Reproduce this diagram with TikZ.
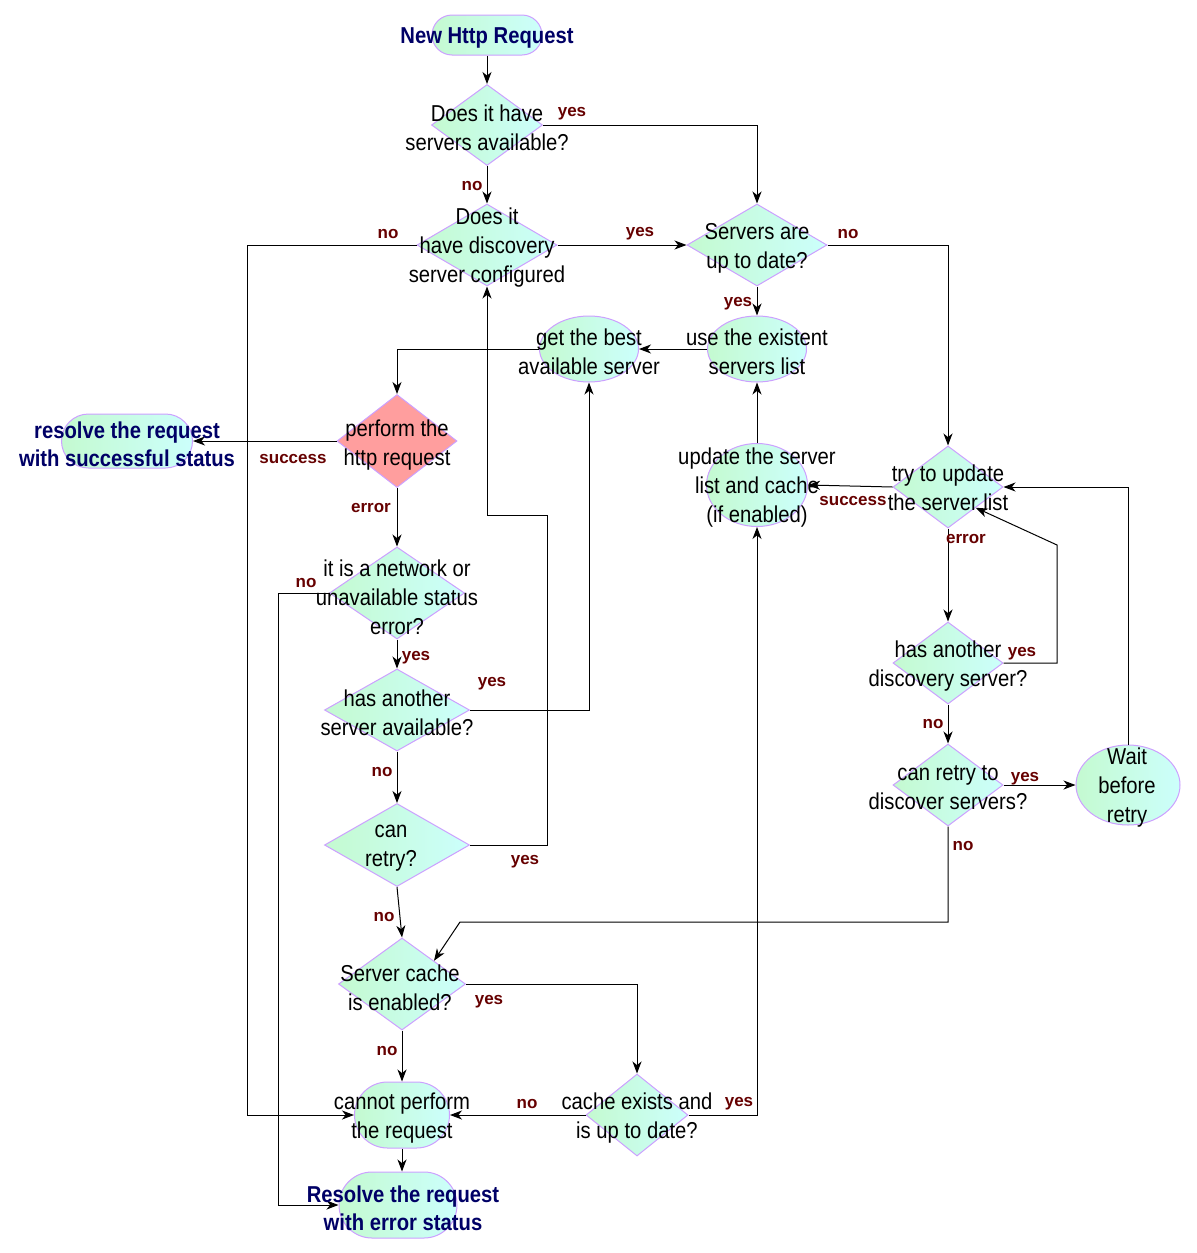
\documentclass[tikz,border=0pt]{standalone}
\usepackage{fontspec}
\setmainfont{Liberation Sans}[FakeStretch=0.88]
\newfontfamily\lblfont{Liberation Sans}
\usetikzlibrary{shapes.geometric,shapes.misc,arrows.meta}
\definecolor{gA}{RGB}{196,250,208}
\definecolor{gB}{RGB}{204,255,252}
\definecolor{bord}{RGB}{204,160,255}
\definecolor{redf}{RGB}{255,158,158}
\definecolor{navyc}{RGB}{0,0,102}
\definecolor{lblc}{RGB}{102,0,0}
\begin{document}
\begin{tikzpicture}[x=0.5pt,y=-0.5pt,
 shp/.style={draw=bord, line width=0.5pt, left color=gA, right color=gB, inner sep=0pt},
 dia/.style={shp, diamond},
 reddia/.style={draw=bord, line width=0.5pt, fill=redf, inner sep=0pt, diamond},
 ell/.style={shp, ellipse},
 stad/.style={shp, rounded rectangle},
 sz/.style 2 args={minimum width=#1*0.5pt, minimum height=#2*0.5pt},
 txt/.style={align=center, font=\fontsize{11.5}{14.5}\selectfont, inner sep=0pt, yshift=-1pt},
 ttl/.style={txt, font=\fontsize{11.5}{14.2}\selectfont\bfseries, text=navyc},
 lbl/.style={font=\lblfont\fontsize{8.5}{10}\selectfont\bfseries, text=lblc, inner sep=0pt, yshift=-1.5pt},
 arr/.style={-{Stealth[length=6pt,width=4.5pt,inset=1.8pt]}, line width=0.5pt}]
\useasboundingbox[fill=white] (0,0) rectangle (1196,1253);

% shapes
\node[stad, sz={110}{40}] (start) at (487,35) {};
\node[dia, sz={111}{81}] (d1) at (487,125) {};
\node[dia, sz={140}{82}] (d2) at (487,245) {};
\node[dia, sz={140}{82}] (d3) at (757,245) {};
\node[ell, sz={99}{66}] (use) at (757,349) {};
\node[ell, sz={99}{66}] (best) at (589,349) {};
\node[reddia, sz={120}{93}] (perf) at (397,441) {};
\node[stad, sz={131}{54}] (resok) at (127,441) {};
\node[dia, sz={135}{92}] (net) at (397,593) {};
\node[dia, sz={145}{82}] (has) at (397,710) {};
\node[dia, sz={145}{83}] (cr) at (397,845) {};
\node[dia, sz={127}{92}] (sc) at (402,984) {};
\node[stad, sz={95}{66}] (cp) at (402,1115) {};
\node[stad, sz={118}{66}] (reserr) at (398,1205) {};
\node[dia, sz={102}{82}] (ce) at (637,1115) {};
\node[ell, sz={101}{83}] (upd) at (757,485) {};
\node[dia, sz={110}{82}] (try) at (948,487) {};
\node[dia, sz={110}{82}] (had) at (948,663) {};
\node[dia, sz={110}{82}] (crd) at (948,785) {};
\node[ell, sz={104}{80}] (wait) at (1128,785) {};

% bend coordinates
\coordinate (xa) at (247,0);
\coordinate (xb) at (278,0);
\coordinate (xc) at (547,0);
\coordinate (yc) at (0,515);
\coordinate (xd) at (1057,0);
\coordinate (yd) at (0,545);
\coordinate (xe) at (460,0);
\coordinate (ye) at (0,922);

% connectors
\draw[arr] (start.south) -- (d1.north);
\draw[arr] (d1.east) -| (d3.north);
\draw[arr] (d1.south) -- (d2.north);
\draw[arr] (d2.east) -- (d3.west);
\draw[arr] (d2.west) -- (d2.west -| xa) |- (cp.west);
\draw[arr] (d3.east) -| (try.north);
\draw[arr] (d3.south) -- (use.north);
\draw[arr] (use.west) -- (best.east);
\draw[arr] (best.west) -| (perf.north);
\draw[arr] (perf.west) -- (resok.east);
\draw[arr] (perf.south) -- (net.north);
\draw[arr] (net.west) -- (net.west -| xb) |- (reserr.west);
\draw[arr] (net.south) -- (has.north);
\draw[arr] (has.east) -| (best.south);
\draw[arr] (has.south) -- (cr.north);
\draw[arr] (cr.east) -| (xc |- yc) -| (d2.south);
\draw[arr] (cr.south) -- (sc.north);
\draw[arr] (sc.east) -| (ce.north);
\draw[arr] (sc.south) -- (cp.north);
\draw[arr] (ce.west) -- (cp.east);
\draw[arr] (ce.east) -| (upd.south);
\draw[arr] (upd.north) -- (use.south);
\draw[arr] (try.west) -- (upd.east);
\draw[arr] (try.south) -- (had.north);
\draw[arr] (had.east) -- (had.east -| xd) -- (xd |- yd) -- (try.south east);
\draw[arr] (had.south) -- (crd.north);
\draw[arr] (crd.east) -- (wait.west);
\draw[arr] (wait.north) |- (try.east);
\draw[arr] (crd.south) -- (crd.south |- ye) -- (xe |- ye) -- (sc.north east);
\draw[arr] (cp.south) -- (cp.south |- reserr.north);

% texts
\node[ttl] (startt) at (487,36) {New Http Request};
\node[txt] (d1t) at (487,126) {Does it have\\servers available?};
\node[txt] (d2t) at (487,246) {Does it\\have discovery\\server configured};
\node[txt] (d3t) at (757,246) {Servers are\\up to date?};
\node[txt] (uset) at (757,350) {use the existent\\servers list};
\node[txt] (bestt) at (589,350) {get the best\\available server};
\node[txt] (perft) at (397,443) {perform the\\http request};
\node[ttl] (resokt) at (127,442) {resolve the request\\with successful status};
\node[txt] (nett) at (397,595) {it is a network or\\unavailable status\\error?};
\node[txt] (hast) at (397,711) {has another\\server available?};
\node[txt] (crt) at (391,846) {can\\retry?};
\node[txt] (sct) at (400,986) {Server cache\\is enabled?};
\node[txt] (cpt) at (402,1116) {cannot perform\\the request};
\node[ttl] (reserrt) at (403,1206) {Resolve the request\\with error status};
\node[txt] (cet) at (637,1116) {cache exists and\\is up to date?};
\node[txt] (updt) at (757,486) {update the server\\list and cache\\(if enabled)};
\node[txt] (tryt) at (948,486) {try to update\\the server list};
\node[txt] (hadt) at (948,664) {has another\\discovery server?};
\node[txt] (crdt) at (948,786) {can retry to\\discover servers?};
\node[txt] (waitt) at (1127,786) {Wait\\before\\retry};

% labels
\node[lbl] (l1) at (572,111) {yes};
\node[lbl] (l2) at (472,183) {no};
\node[lbl] (l3) at (388,231) {no};
\node[lbl] (l4) at (640,231) {yes};
\node[lbl] (l5) at (848,231) {no};
\node[lbl] (l6) at (738,301) {yes};
\node[lbl] (l7) at (293,456) {success};
\node[lbl] (l8) at (371,505) {error};
\node[lbl] (l9) at (306,580) {no};
\node[lbl] (l10) at (416,655) {yes};
\node[lbl] (l11) at (492,681) {yes};
\node[lbl] (l12) at (382,769) {no};
\node[lbl] (l13) at (525,859) {yes};
\node[lbl] (l14) at (384,914) {no};
\node[lbl] (l15) at (489,999) {yes};
\node[lbl] (l16) at (387,1048) {no};
\node[lbl] (l17) at (527,1101) {no};
\node[lbl] (l18) at (739,1101) {yes};
\node[lbl] (l19) at (853,498) {success};
\node[lbl] (l20) at (966,536) {error};
\node[lbl] (l21) at (1022,651) {yes};
\node[lbl] (l22) at (933,721) {no};
\node[lbl] (l23) at (1025,776) {yes};
\node[lbl] (l24) at (963,843) {no};
\end{tikzpicture}
\end{document}
